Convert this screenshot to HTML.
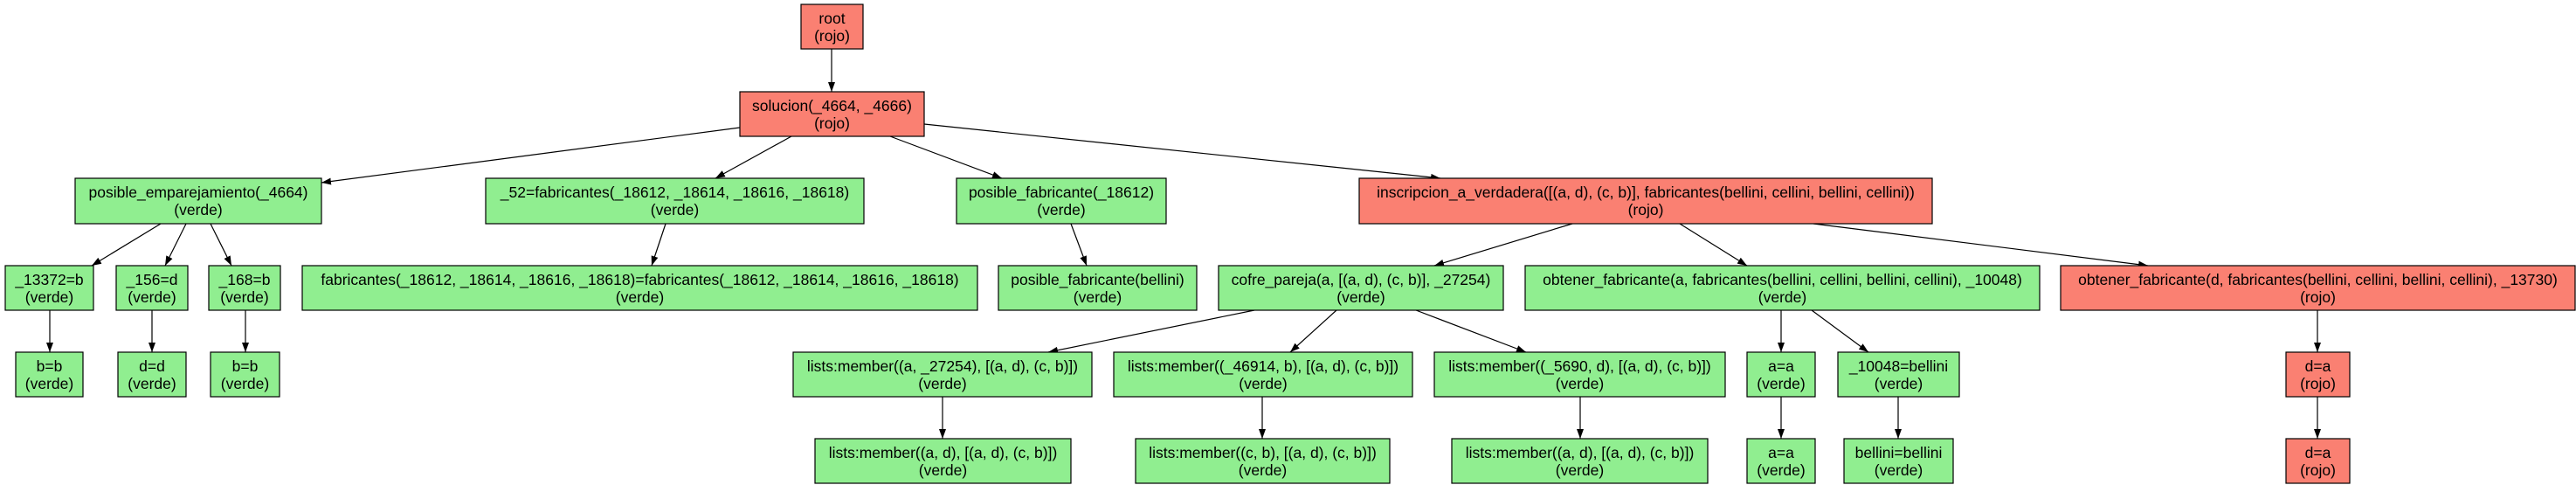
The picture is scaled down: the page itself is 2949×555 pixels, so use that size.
<!DOCTYPE html>
<html><head><meta charset="utf-8"><style>
html,body{margin:0;padding:0;background:#fff;}
svg{display:block;}
text{font-family:"Liberation Sans",Arial,sans-serif;font-size:17.5px;fill:#000;text-anchor:middle;}
.g{fill:#90ee90;stroke:#000;stroke-width:1.2;}
.r{fill:#fa8072;stroke:#000;stroke-width:1.2;}
line{stroke:#000;stroke-width:1.2;marker-end:url(#a);}
</style></head><body>
<svg width="2949" height="555" viewBox="0 0 2949 555" xmlns="http://www.w3.org/2000/svg">
<defs><marker id="a" markerUnits="userSpaceOnUse" markerWidth="11" markerHeight="8" refX="11" refY="4" orient="auto"><path d="M0,0 L11,4 L0,8 z" fill="#000"/></marker></defs>

<!-- edges -->
<line x1="952" y1="56" x2="952" y2="105"/>
<line x1="847" y1="146" x2="368" y2="209"/>
<line x1="906" y1="156" x2="819" y2="204"/>
<line x1="1019" y1="156" x2="1147" y2="204"/>
<line x1="1058" y1="142" x2="1649" y2="204"/>
<line x1="184" y1="256" x2="105" y2="304"/>
<line x1="213" y1="256" x2="189" y2="304"/>
<line x1="241" y1="256" x2="265" y2="304"/>
<line x1="762" y1="256" x2="746" y2="304"/>
<line x1="1226" y1="256" x2="1244" y2="304"/>
<line x1="1800" y1="256" x2="1642" y2="304"/>
<line x1="1923" y1="256" x2="2000" y2="304"/>
<line x1="2076" y1="256" x2="2459" y2="304"/>
<line x1="57" y1="355" x2="57" y2="403"/>
<line x1="174" y1="355" x2="174" y2="403"/>
<line x1="281" y1="355" x2="281" y2="403"/>
<line x1="1436" y1="355" x2="1200" y2="403"/>
<line x1="1530" y1="355" x2="1477" y2="403"/>
<line x1="1621" y1="355" x2="1747" y2="403"/>
<line x1="2039" y1="355" x2="2039" y2="403"/>
<line x1="2074" y1="355" x2="2139" y2="403"/>
<line x1="2653" y1="355" x2="2653" y2="403"/>
<line x1="1079" y1="454" x2="1079" y2="502"/>
<line x1="1445" y1="454" x2="1445" y2="502"/>
<line x1="1809" y1="454" x2="1809" y2="502"/>
<line x1="2039" y1="454" x2="2039" y2="502"/>
<line x1="2173" y1="454" x2="2173" y2="502"/>
<line x1="2653" y1="454" x2="2653" y2="502"/>

<!-- row 1 -->
<rect class="r" x="917" y="5" width="71" height="51"/>
<text x="952.5" y="27">root</text><text x="952.5" y="47">(rojo)</text>
<!-- row 2 -->
<rect class="r" x="847" y="105" width="211" height="51"/>
<text x="952.5" y="127">solucion(_4664, _4666)</text><text x="952.5" y="147">(rojo)</text>
<!-- row 3 -->
<rect class="g" x="86" y="204" width="282" height="52"/>
<text x="227" y="226">posible_emparejamiento(_4664)</text><text x="227" y="246">(verde)</text>
<rect class="g" x="556" y="204" width="433" height="52"/>
<text x="772.5" y="226">_52=fabricantes(_18612, _18614, _18616, _18618)</text><text x="772.5" y="246">(verde)</text>
<rect class="g" x="1095" y="204" width="240" height="52"/>
<text x="1215" y="226">posible_fabricante(_18612)</text><text x="1215" y="246">(verde)</text>
<rect class="r" x="1556" y="204" width="656" height="52"/>
<text x="1884" y="226">inscripcion_a_verdadera([(a, d), (c, b)], fabricantes(bellini, cellini, bellini, cellini))</text><text x="1884" y="246">(rojo)</text>
<!-- row 4 -->
<rect class="g" x="6" y="304" width="101" height="51"/>
<text x="56.5" y="326">_13372=b</text><text x="56.5" y="346">(verde)</text>
<rect class="g" x="133" y="304" width="82" height="51"/>
<text x="174" y="326">_156=d</text><text x="174" y="346">(verde)</text>
<rect class="g" x="239" y="304" width="82" height="51"/>
<text x="280" y="326">_168=b</text><text x="280" y="346">(verde)</text>
<rect class="g" x="346" y="304" width="773" height="51"/>
<text x="732.5" y="326">fabricantes(_18612, _18614, _18616, _18618)=fabricantes(_18612, _18614, _18616, _18618)</text><text x="732.5" y="346">(verde)</text>
<rect class="g" x="1143" y="304" width="227" height="51"/>
<text x="1256.5" y="326">posible_fabricante(bellini)</text><text x="1256.5" y="346">(verde)</text>
<rect class="g" x="1395" y="304" width="326" height="51"/>
<text x="1558" y="326">cofre_pareja(a, [(a, d), (c, b)], _27254)</text><text x="1558" y="346">(verde)</text>
<rect class="g" x="1746" y="304" width="589" height="51"/>
<text x="2040.5" y="326">obtener_fabricante(a, fabricantes(bellini, cellini, bellini, cellini), _10048)</text><text x="2040.5" y="346">(verde)</text>
<rect class="r" x="2359" y="304" width="589" height="51"/>
<text x="2653.5" y="326">obtener_fabricante(d, fabricantes(bellini, cellini, bellini, cellini), _13730)</text><text x="2653.5" y="346">(rojo)</text>
<!-- row 5 -->
<rect class="g" x="18" y="403" width="77" height="51"/>
<text x="56.5" y="425">b=b</text><text x="56.5" y="445">(verde)</text>
<rect class="g" x="135" y="403" width="78" height="51"/>
<text x="174" y="425">d=d</text><text x="174" y="445">(verde)</text>
<rect class="g" x="241" y="403" width="79" height="51"/>
<text x="280.5" y="425">b=b</text><text x="280.5" y="445">(verde)</text>
<rect class="g" x="908" y="403" width="342" height="51"/>
<text x="1079" y="425">lists:member((a, _27254), [(a, d), (c, b)])</text><text x="1079" y="445">(verde)</text>
<rect class="g" x="1275" y="403" width="342" height="51"/>
<text x="1446" y="425">lists:member((_46914, b), [(a, d), (c, b)])</text><text x="1446" y="445">(verde)</text>
<rect class="g" x="1642" y="403" width="333" height="51"/>
<text x="1808.5" y="425">lists:member((_5690, d), [(a, d), (c, b)])</text><text x="1808.5" y="445">(verde)</text>
<rect class="g" x="2000" y="403" width="78" height="51"/>
<text x="2039" y="425">a=a</text><text x="2039" y="445">(verde)</text>
<rect class="g" x="2104" y="403" width="139" height="51"/>
<text x="2173.5" y="425">_10048=bellini</text><text x="2173.5" y="445">(verde)</text>
<rect class="r" x="2617" y="403" width="73" height="51"/>
<text x="2653.5" y="425">d=a</text><text x="2653.5" y="445">(rojo)</text>
<!-- row 6 -->
<rect class="g" x="933" y="502" width="293" height="51"/>
<text x="1079.5" y="524">lists:member((a, d), [(a, d), (c, b)])</text><text x="1079.5" y="544">(verde)</text>
<rect class="g" x="1300" y="502" width="291" height="51"/>
<text x="1445.5" y="524">lists:member((c, b), [(a, d), (c, b)])</text><text x="1445.5" y="544">(verde)</text>
<rect class="g" x="1662" y="502" width="293" height="51"/>
<text x="1808.5" y="524">lists:member((a, d), [(a, d), (c, b)])</text><text x="1808.5" y="544">(verde)</text>
<rect class="g" x="2000" y="502" width="78" height="51"/>
<text x="2039" y="524">a=a</text><text x="2039" y="544">(verde)</text>
<rect class="g" x="2111" y="502" width="125" height="51"/>
<text x="2173.5" y="524">bellini=bellini</text><text x="2173.5" y="544">(verde)</text>
<rect class="r" x="2617" y="502" width="73" height="51"/>
<text x="2653.5" y="524">d=a</text><text x="2653.5" y="544">(rojo)</text>
</svg>
</body></html>
